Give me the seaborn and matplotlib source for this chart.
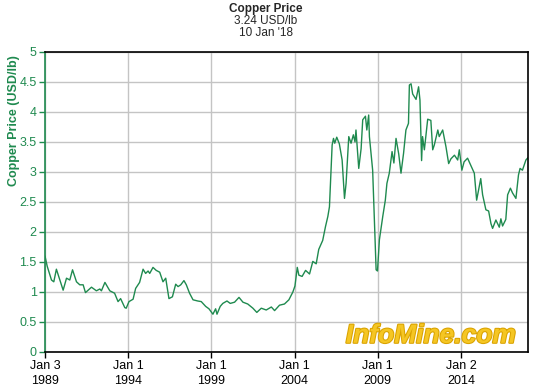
import seaborn as sns
import matplotlib
matplotlib.use("Agg")
import matplotlib.pyplot as plt
import matplotlib.patheffects as pe
import pandas as pd

# copper price, USD/lb
dates = [
    "1989-01-03", "1989-02-20", "1989-05-25", "1989-07-15", "1989-09-10", "1989-11-25",
    "1990-02-05", "1990-04-20", "1990-07-01", "1990-08-30", "1990-11-25",
    "1991-02-05", "1991-04-20", "1991-06-10", "1991-10-20",
    "1992-02-05", "1992-04-20", "1992-05-25", "1992-08-10", "1992-11-25",
    "1993-03-10", "1993-05-25", "1993-07-20", "1993-10-20", "1993-11-20",
    "1994-01-20", "1994-04-20", "1994-06-15", "1994-09-10", "1994-11-25",
    "1995-01-20", "1995-03-15", "1995-04-20", "1995-07-01", "1995-09-10", "1995-11-25",
    "1996-02-05", "1996-04-05", "1996-06-15", "1996-08-30", "1996-11-10",
    "1997-01-01", "1997-03-01", "1997-05-10", "1997-07-01", "1997-09-10", "1997-11-25",
    "1998-03-10", "1998-05-25", "1998-08-30", "1998-11-10",
    "1999-02-05", "1999-04-05", "1999-05-05", "1999-07-15", "1999-09-10", "1999-12-10",
    "2000-02-20", "2000-05-25", "2000-08-30", "2000-11-25",
    "2001-03-10", "2001-07-01", "2001-09-25",
    "2002-01-01", "2002-04-20", "2002-08-10", "2002-10-20",
    "2003-02-05", "2003-05-25", "2003-08-30", "2003-11-25",
    "2004-01-10", "2004-03-01", "2004-04-05", "2004-06-15", "2004-08-30", "2004-11-25",
    "2005-02-05", "2005-04-20", "2005-06-15", "2005-09-10", "2005-11-10",
    "2006-01-01", "2006-02-05", "2006-04-05", "2006-05-05", "2006-06-01", "2006-07-15",
    "2006-09-10", "2006-11-10",
    "2007-01-01", "2007-02-05", "2007-04-05", "2007-05-25", "2007-07-15", "2007-08-20",
    "2007-09-10", "2007-11-10",
    "2008-01-01", "2008-02-05", "2008-04-05", "2008-05-05", "2008-06-15", "2008-07-01",
    "2008-09-10", "2008-11-25", "2008-12-25",
    "2009-02-05", "2009-04-20", "2009-06-15", "2009-07-20", "2009-09-10", "2009-11-10",
    "2009-12-20",
    "2010-02-05", "2010-04-05", "2010-05-25", "2010-07-20", "2010-09-10", "2010-11-05",
    "2010-11-25",
    "2011-01-01", "2011-02-05", "2011-04-20", "2011-06-15", "2011-07-15", "2011-08-20",
    "2011-09-10", "2011-10-20",
    "2012-01-01", "2012-03-10", "2012-04-20", "2012-05-25", "2012-08-10", "2012-09-10",
    "2012-11-25",
    "2013-02-05", "2013-04-05", "2013-05-25", "2013-08-10", "2013-10-20", "2013-11-25",
    "2014-01-20", "2014-03-10", "2014-05-25", "2014-08-10", "2014-10-20", "2014-12-10",
    "2015-02-05", "2015-03-10", "2015-04-20", "2015-07-01", "2015-08-30", "2015-10-20",
    "2015-11-25",
    "2016-02-05", "2016-04-20", "2016-05-25", "2016-07-01", "2016-09-10", "2016-10-20",
    "2016-12-20",
    "2017-02-05", "2017-04-20", "2017-06-15", "2017-07-20", "2017-09-10", "2017-11-25",
    "2018-01-10",
]
prices = [
    1.60, 1.43, 1.20, 1.17, 1.38, 1.20,
    1.03, 1.23, 1.20, 1.37, 1.17,
    1.12, 1.12, 0.99, 1.08,
    1.02, 1.05, 1.02, 1.16, 1.02,
    0.98, 0.84, 0.89, 0.74, 0.73,
    0.84, 0.88, 1.06, 1.16, 1.38,
    1.31, 1.35, 1.31, 1.41, 1.36, 1.33,
    1.17, 1.23, 0.89, 0.92, 1.13,
    1.09, 1.12, 1.19, 1.12, 0.98, 0.87,
    0.85, 0.84, 0.76, 0.72,
    0.63, 0.72, 0.63, 0.76, 0.81, 0.85,
    0.81, 0.83, 0.91, 0.83,
    0.80, 0.73, 0.66,
    0.73, 0.70, 0.75, 0.69,
    0.78, 0.80, 0.87, 1.00,
    1.10, 1.41, 1.28, 1.26, 1.36, 1.30,
    1.51, 1.47, 1.71, 1.86, 2.09,
    2.26, 2.42, 3.45, 3.56, 3.48, 3.58,
    3.47, 3.20,
    2.56, 2.81, 3.59, 3.48, 3.62, 3.50,
    3.70, 3.06,
    3.39, 3.87, 3.93, 3.70, 3.95, 3.59,
    3.03, 1.37, 1.35,
    1.87, 2.26, 2.53, 2.81, 2.98, 3.34,
    3.15,
    3.56, 3.30, 2.98, 3.31, 3.70, 3.81,
    4.45,
    4.47, 4.30, 4.21, 4.42, 4.20, 3.19,
    3.59, 3.37,
    3.88, 3.86, 3.37, 3.45, 3.70, 3.59,
    3.70,
    3.42, 3.14, 3.22, 3.28, 3.20, 3.37,
    3.03, 3.17, 3.23, 3.10, 2.98, 2.53,
    2.76, 2.89, 2.62, 2.37, 2.35, 2.14,
    2.06,
    2.20, 2.08, 2.22, 2.10, 2.21, 2.62,
    2.73,
    2.65, 2.56, 2.95, 3.06, 3.03, 3.20,
    3.24,
]

tick_dates = ["1989-01-03", "1994-01-01", "1999-01-01", "2004-01-01", "2009-01-01", "2014-01-02"]
tick_labels = ["Jan 3\n1989", "Jan 1\n1994", "Jan 1\n1999", "Jan 1\n2004", "Jan 1\n2009", "Jan 2\n2014"]
y_ticks = [0, 0.5, 1, 1.5, 2, 2.5, 3, 3.5, 4, 4.5, 5]
y_labels = ["0", "0.5", "1", "1.5", "2", "2.5", "3", "3.5", "4", "4.5", "5"]

green = "#1f8a4f"

sns.set_style("white")
plt.rcParams['font.family'] = ['Liberation Sans', 'DejaVu Sans']

df = pd.DataFrame({"date": pd.to_datetime(dates), "price": prices})

fig = plt.figure(figsize=(5.42, 3.9), dpi=100)
ax = fig.add_axes([45 / 542, 1 - 352 / 390, (528 - 45) / 542, 300 / 390])

sns.lineplot(data=df, x="date", y="price", ax=ax, color=green, linewidth=1.0)

ax.set_xlim(pd.Timestamp("1989-01-03"), pd.Timestamp("2018-01-10"))
ax.set_ylim(0, 5)
ax.set_xticks(pd.to_datetime(tick_dates))
ax.set_xticklabels(tick_labels, fontsize=9, color="black", linespacing=1.3)
ax.set_yticks(y_ticks)
ax.set_yticklabels(y_labels, fontsize=9, color=green)
ax.set_xlabel("")
ax.set_ylabel("")

ax.grid(True, color="#c4c4c4", linewidth=1.0)
ax.set_axisbelow(True)
for side in ["top", "right", "bottom"]:
    ax.spines[side].set_color("black")
    ax.spines[side].set_linewidth(1.2)
ax.spines["left"].set_color(green)
ax.spines["left"].set_linewidth(1.2)
ax.tick_params(axis="y", which="both", left=True, length=4, width=1, color=green, pad=2)
ax.tick_params(axis="x", which="both", bottom=True, length=4, width=1, color="black", pad=2)

fig.text(0.49, 1 - 9 / 390, "Copper Price", ha="center", va="center",
         fontsize=8.5, fontweight="bold")
fig.text(0.49, 1 - 21 / 390, "3.24 USD/lb", ha="center", va="center", fontsize=8.5)
fig.text(0.49, 1 - 33 / 390, "10 Jan '18", ha="center", va="center", fontsize=8.5)

fig.text(14 / 542, 1 - 55 / 390, "Copper Price (USD/lb)", rotation=90, ha="center",
         va="top", fontsize=9, fontweight="bold", color=green)

ax.text(0.975, 0.014, "InfoMine.com", transform=ax.transAxes, ha="right", va="bottom",
        fontsize=19, fontweight="bold", style="italic", color="#f5c623",
        path_effects=[pe.withStroke(linewidth=1.5, foreground="#d9a200")])

fig.savefig("out.png", dpi=100)
